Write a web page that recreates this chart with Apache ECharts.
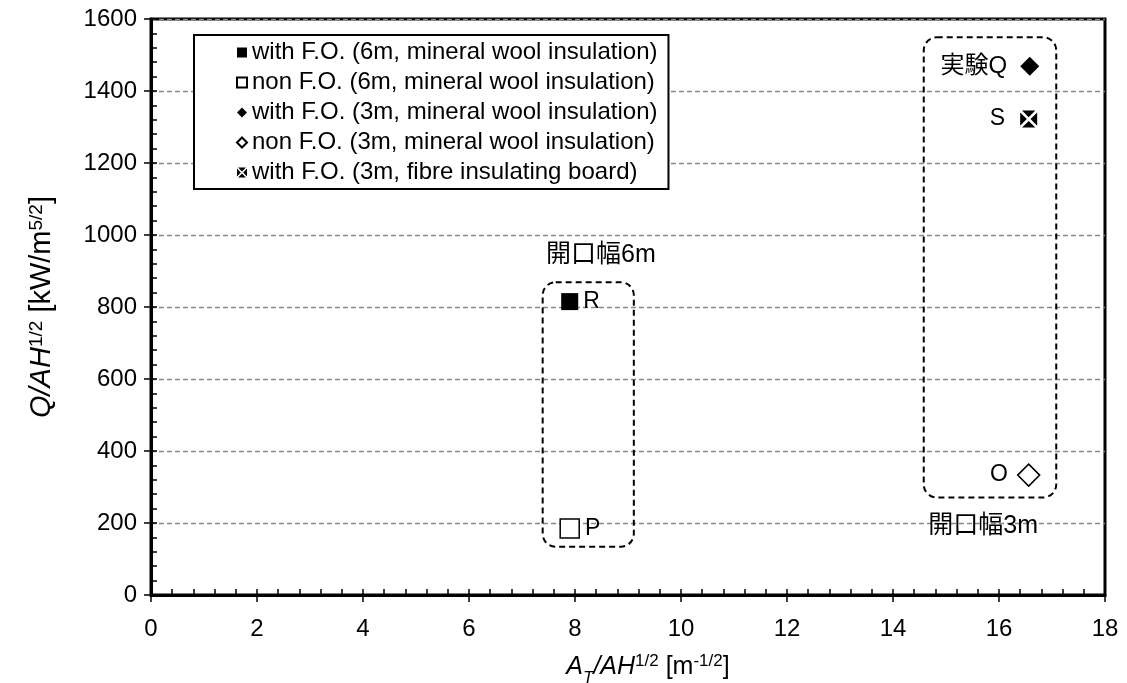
<!DOCTYPE html>
<html><head><meta charset="utf-8">
<script src="https://cdn.jsdelivr.net/npm/echarts@6/dist/echarts.min.js"></script>
<style>html,body{margin:0;padding:0;background:#fff}#c{width:1127px;height:683px}</style>
</head><body><div id="c"></div>
<script>
const seriesNames = [
  'with F.O. (6m, mineral wool insulation)',
  'non F.O. (6m, mineral wool insulation)',
  'with F.O. (3m, mineral wool insulation)',
  'non F.O. (3m, mineral wool insulation)',
  'with F.O. (3m, fibre insulating board)'
];
const withFO6m = [[7.9, 815]];
const nonFO6m = [[7.9, 185]];
const withFO3m = [[16.58, 1469]];
const nonFO3m = [[16.56, 333]];
const withFO3mBoard = [[16.56, 1322]];
const pointLabels = ['R', 'P', '実験Q', 'O', 'S'];
const xTicks = [0, 2, 4, 6, 8, 10, 12, 14, 16, 18];
const yTicks = [0, 200, 400, 600, 800, 1000, 1200, 1400, 1600];
// annotation groups in data units
const groupBoxes = [
  { label: '開口幅6m', x: [7.39, 9.11], y: [134, 869], labelAt: [8.49, 944] },
  { label: '開口幅3m', x: [14.58, 17.08], y: [271, 1549], labelAt: [15.70, 190] }
];

const FONT = 'Arial, "Liberation Sans", "Noto Sans CJK JP", sans-serif';
const crossSq = 'path://M1.1,0 L8.9,0 L5,3.9 Z M1.1,10 L8.9,10 L5,6.1 Z M0,1.1 L0,8.9 L3.9,5 Z M10,1.1 L10,8.9 L6.1,5 Z';

const chart = echarts.init(document.getElementById('c'), null, { renderer: 'canvas' });

function mkSeries(name, data, symbol, size, fill, lbl, pos, dist, fs) {
  return {
    name, type: 'scatter', data, symbol, symbolSize: size,
    xAxisIndex: 0, yAxisIndex: 0,
    itemStyle: { color: fill, borderColor: '#000', borderWidth: fill === '#fff' ? 1.5 : 0, opacity: 1 },
    label: { show: true, formatter: lbl, position: pos, distance: dist, color: '#000', fontSize: fs, fontFamily: FONT },
    emphasis: { disabled: true }
  };
}

const option = {
  animation: false,
  backgroundColor: '#fff',
  grid: {
    left: 151, right: 22, top: 19, bottom: 88, containLabel: false, outerBoundsMode: 'none',
    show: true, borderColor: '#000', borderWidth: 3, backgroundColor: 'transparent'
  },
  legend: {
    data: seriesNames,
    orient: 'vertical', left: 194, top: 35,
    padding: [4, 11, 3, 42],
    itemGap: 3, itemWidth: 10, itemHeight: 10,
    borderColor: '#000', borderWidth: 2,
    backgroundColor: '#fff',
    textStyle: { fontSize: 24, lineHeight: 27, fontFamily: FONT, color: '#000' },
    selectedMode: false
  },
  xAxis: [{
    type: 'value', min: 0, max: 18, interval: 2,
    axisLine: { show: true, lineStyle: { color: '#000', width: 3 } },
    axisTick: { show: true, length: 7, lineStyle: { color: '#000', width: 1.5 } },
    axisLabel: { fontSize: 24, fontFamily: FONT, color: '#000', margin: 22, formatter: v => xTicks.includes(v) ? String(v) : '' },
    splitLine: { show: false },
    name: '{i|A}{sub|T}{i|/AH}{s|1/2}{n| [m}{s|-1/2}{n|]}',
    nameLocation: 'middle', nameGap: 58,
    nameTextStyle: {
      padding: [0, 0, 0, 40],
      rich: {
        i: { fontSize: 25, fontStyle: 'italic', fontFamily: FONT, color: '#000', lineHeight: 28 },
        n: { fontSize: 25, fontFamily: FONT, color: '#000', lineHeight: 28 },
        s: { fontSize: 17, fontFamily: FONT, color: '#000', verticalAlign: 'top', lineHeight: 17 },
        sub: { fontSize: 17, fontStyle: 'italic', fontFamily: FONT, color: '#000', verticalAlign: 'bottom', lineHeight: 17, padding: [0, 0, -6, 0] }
      }
    }
  }, {
    type: 'value', min: 0, max: 18, interval: 0.4, position: 'bottom',
    axisLine: { show: false },
    axisTick: { show: true, inside: true, length: 6, lineStyle: { color: '#000', width: 1.5 } },
    axisLabel: { show: false }, splitLine: { show: false }
  }],
  yAxis: [{
    type: 'value', min: 0, max: 1600, interval: 200,
    axisLine: { show: true, lineStyle: { color: '#000', width: 3 } },
    axisTick: { show: true, length: 7, lineStyle: { color: '#000', width: 1.5 } },
    axisLabel: { fontSize: 24, fontFamily: FONT, color: '#000', margin: 14, formatter: v => yTicks.includes(v) ? String(v) : '' },
    splitLine: { show: true, lineStyle: { color: '#888', type: [5, 3], width: 1.3 } },
    name: '{i|Q/AH}{s|1/2}{n| [kW/m}{s|5/2}{n|]}',
    nameLocation: 'middle', nameGap: 94, nameRotate: 90,
    nameTextStyle: {
      rich: {
        i: { fontSize: 29, fontStyle: 'italic', fontFamily: FONT, color: '#000', lineHeight: 30 },
        n: { fontSize: 29, fontFamily: FONT, color: '#000', lineHeight: 30 },
        s: { fontSize: 19, fontFamily: FONT, color: '#000', verticalAlign: 'top', lineHeight: 19 }
      }
    }
  }, {
    type: 'value', min: 0, max: 1600, interval: 40, position: 'left',
    axisLine: { show: false },
    axisTick: { show: true, inside: true, length: 6, lineStyle: { color: '#000', width: 1.5 } },
    axisLabel: { show: false }, splitLine: { show: false }
  }],
  series: [
    mkSeries(seriesNames[0], withFO6m, 'rect', 17, '#000', pointLabels[0], 'right', 5, 23),
    mkSeries(seriesNames[1], nonFO6m, 'rect', 19, '#fff', pointLabels[1], 'right', 5, 23),
    mkSeries(seriesNames[2], withFO3m, 'diamond', 19, '#000', pointLabels[2], 'left', 13, 24),
    mkSeries(seriesNames[3], nonFO3m, 'diamond', 22, '#fff', pointLabels[3], 'left', 9, 23),
    mkSeries(seriesNames[4], withFO3mBoard, crossSq, 17, '#000', pointLabels[4], 'left', 15, 23)
  ]
};
chart.setOption(option);

const graphics = [];
groupBoxes.forEach(b => {
  const p1 = chart.convertToPixel({ xAxisIndex: 0, yAxisIndex: 0 }, [b.x[0], b.y[1]]);
  const p2 = chart.convertToPixel({ xAxisIndex: 0, yAxisIndex: 0 }, [b.x[1], b.y[0]]);
  graphics.push({
    type: 'rect', z: 1, silent: true,
    shape: { x: p1[0], y: p1[1], width: p2[0] - p1[0], height: p2[1] - p1[1], r: 13 },
    style: { fill: 'none', stroke: '#000', lineWidth: 2, lineDash: [6, 4] }
  });
  const t = chart.convertToPixel({ xAxisIndex: 0, yAxisIndex: 0 }, b.labelAt);
  graphics.push({
    type: 'text', z: 5, silent: true, x: t[0], y: t[1],
    style: { text: b.label, fill: '#000', font: '25px ' + FONT, align: 'center', verticalAlign: 'middle' }
  });
});
chart.setOption({ graphic: graphics });
</script></body></html>
